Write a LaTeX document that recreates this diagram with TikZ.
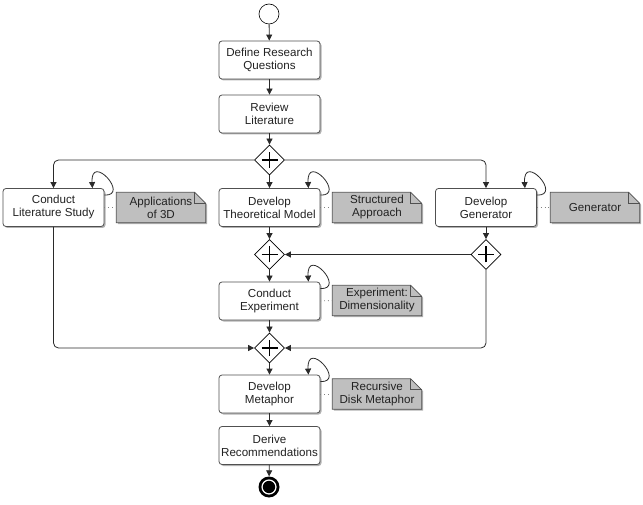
\documentclass[tikz,border=0pt]{standalone}
\usepackage{fontspec}
\setmainfont{Liberation Sans}
\usetikzlibrary{arrows.meta,shapes.geometric,shadows,backgrounds}
\definecolor{notegray}{HTML}{BFBFBF}
\definecolor{linegray}{HTML}{2A2A2A}
\definecolor{boxborder}{HTML}{505050}
\definecolor{txt}{HTML}{222222}
\tikzset{
  task/.style={draw=boxborder, line width=0.8pt, fill=white, rounded corners=3pt, minimum width=101pt,
    minimum height=38pt, align=center, inner sep=1pt, text=txt,
    font=\fontsize{11.6}{13}\selectfont,
    drop shadow={shadow xshift=1.5pt, shadow yshift=-1.5pt, opacity=0.3, fill=black}},
  gw/.style={diamond, draw=black, fill=white, minimum width=30pt, minimum height=30pt,
    inner sep=0pt, line width=0.8pt},
  flow/.style={draw=linegray, line width=0.8pt, -{Triangle[length=6pt,width=6pt]}, rounded corners=5pt},
  assoc/.style={draw=gray, line width=0.8pt, dash pattern=on 0.8pt off 3pt},
  notetext/.style={minimum width=89pt, minimum height=30pt, inner sep=0pt, align=center,
    text=txt, font=\fontsize{11.6}{13}\selectfont},
  notepath/.style={draw=boxborder, fill=notegray, line width=0.8pt,
    drop shadow={shadow xshift=1.5pt, shadow yshift=-1.5pt, opacity=0.3, fill=black}},
  event/.style={circle, minimum size=20pt, inner sep=0pt}
}
\newcommand\gwplus[1]{\draw[line width=1.8pt] ([xshift=-8pt]#1.center) -- ([xshift=8pt]#1.center) ([yshift=-8pt]#1.center) -- ([yshift=8pt]#1.center);}
\newcommand\selfloop[1]{\draw[flow, rounded corners=0pt] ([shift={(0,7)}]#1.north east) .. controls ([shift={(26,8)}]#1.north east) and ([shift={(-14,-36)}]#1.north east) .. ([shift={(-12,0)}]#1.north east);}
\newcommand\notebox[3]{%
  \node[notetext] (#1) at (#2) {#3};
  \begin{scope}[on background layer]
  \path[notepath] (#1.south west) -- (#1.south east) -- ([shift={(0,11)}]#1.north east) -- ([shift={(-11,0)}]#1.north east) -- (#1.north west) -- cycle;
  \draw[boxborder, line width=0.8pt] ([shift={(-11,0)}]#1.north east) -- ([shift={(-11,11)}]#1.north east) -- ([shift={(0,11)}]#1.north east);
  \end{scope}
}
\begin{document}
\begin{tikzpicture}[x=1pt,y=-1pt]
\useasboundingbox (0,0) rectangle (643,505);
% events
\node[event, draw=black, fill=white, line width=0.6pt] (start) at (269,14) {};
\node[event, fill=black, minimum size=21pt] (end) at (269,487) {};
\fill[white] (end.center) circle[radius=7.6pt];
\fill[black] (end.center) circle[radius=6.2pt];
% tasks
\node[task] (b1) at (269.5,60) {Define Research\\Questions};
\node[task] (b2) at (269.5,114) {Review\\Literature};
\node[task] (lit) at (53.5,207.5) {Conduct\\Literature Study};
\node[task] (theo) at (269.5,207.5) {Develop\\Theoretical Model};
\node[task] (gen) at (486,207.5) {Develop\\Generator};
\node[task] (exp) at (269.5,301) {Conduct\\Experiment};
\node[task] (meta) at (269.5,394) {Develop\\Metaphor};
\node[task] (derive) at (269.5,445.5) {Derive\\Recommendations};
% gateways
\node[gw] (gw1) at (269.5,160) {};
\node[gw] (gw2) at (269.5,254.5) {};
\node[gw] (gw3) at (486,254.5) {};
\node[gw] (gw4) at (269.5,348) {};
\gwplus{gw1}\gwplus{gw2}\gwplus{gw3}\gwplus{gw4}
% notes
\notebox{n1}{161,207.5}{Applications\\of 3D}
\notebox{n2}{377,207.5}{Structured\\Approach}
\notebox{n3}{595,207.5}{Generator}
\notebox{n4}{377,300.5}{Experiment:\\Dimensionality}
\notebox{n5}{377,394}{Recursive\\Disk Metaphor}
% associations
\draw[assoc] (lit.east) -- (n1.west);
\draw[assoc] (theo.east) -- (n2.west);
\draw[assoc] (gen.east) -- (n3.west);
\draw[assoc] (exp.east) -- (n4.west);
\draw[assoc] (meta.east) -- (n5.west);
% flows
\draw[flow] (start) -- (b1);
\draw[flow] (b1) -- (b2);
\draw[flow] (b2) -- (gw1);
\draw[flow] (gw1.west) -| (lit.north);
\draw[flow] (gw1) -- (theo);
\draw[flow] (gw1.east) -| (gen.north);
\draw[flow] (theo) -- (gw2);
\draw[flow] (gen) -- (gw3);
\draw[flow] (gw3) -- (gw2);
\draw[flow] (gw2) -- (exp);
\draw[flow] (exp) -- (gw4);
\draw[flow] (lit.south) |- (gw4.west);
\draw[flow] (gw3.south) |- (gw4.east);
\draw[flow] (gw4) -- (meta);
\draw[flow] (meta) -- (derive);
\draw[flow] (derive) -- (end);
% self loops
\selfloop{lit}\selfloop{theo}\selfloop{gen}\selfloop{exp}\selfloop{meta}
\end{tikzpicture}
\end{document}
